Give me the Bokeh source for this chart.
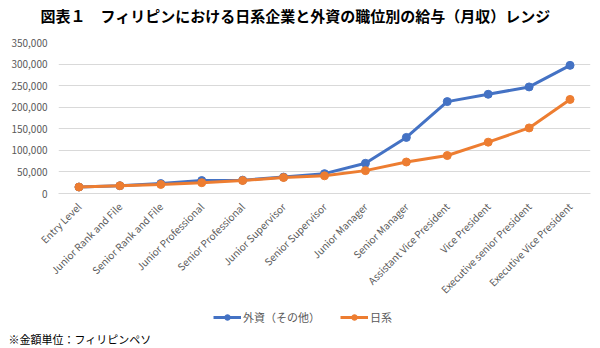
import math
from bokeh.plotting import figure
from bokeh.layouts import column
from bokeh.models import (Legend, LegendItem, Title, NumeralTickFormatter,
                          FixedTicker, Range1d)
from bokeh.embed import file_html
from bokeh.resources import INLINE

categories = ["Entry Level", "Junior Rank and File", "Senior Rank and File",
              "Junior Professional", "Senior Professional", "Junior Supervisor",
              "Senior Supervisor", "Junior Manager", "Senior Manager",
              "Assistant Vice President", "Vice President",
              "Executive senior President", "Executive Vice President"]
foreign = [15000, 18000, 23000, 30000, 31000, 38000, 46000, 70000, 130000,
           213000, 230000, 247000, 297000]
japanese = [15000, 18000, 21000, 25000, 30000, 37000, 41000, 53000, 73000,
            88000, 119000, 152000, 218000]
y_ticks = [0, 50000, 100000, 150000, 200000, 250000, 300000, 350000]

title_text = "図表１　フィリピンにおける日系企業と外資の職位別の給与（月収）レンジ"
note_text = "※金額単位：フィリピンペソ"
series_names = ["外資（その他）", "日系"]

JP = "Noto Sans CJK JP"
BLUE = "#4472C4"
ORANGE = "#ED7D31"
W = 600
LEFT, RIGHT = 58, 10
TOP_H, MAIN_H, BOT_H = 36, 268, 44
NAN = [float("nan")]


def blank(h, top_border, bottom_border):
    f = figure(width=W, height=h, x_range=Range1d(0, 1), y_range=Range1d(0, 1),
               output_backend="svg", toolbar_location=None,
               x_axis_location=None, y_axis_location=None,
               min_border_left=LEFT, min_border_right=RIGHT,
               min_border_top=top_border, min_border_bottom=bottom_border)
    f.grid.visible = False
    f.outline_line_color = None
    f.background_fill_color = "white"
    f.border_fill_color = "white"
    return f


# --- title strip
top = blank(TOP_H, 25, 0)
top.add_layout(Title(text=title_text, align="left", offset=40 - LEFT,
                     standoff=0, text_font=JP, text_font_size="15px",
                     text_font_style="bold", text_color="#000000"), "above")

# --- main chart
p = figure(x_range=categories, y_range=Range1d(0, 350000), width=W, height=MAIN_H,
           output_backend="svg", toolbar_location=None,
           min_border_left=LEFT, min_border_right=RIGHT,
           min_border_top=42 - TOP_H, min_border_bottom=TOP_H + MAIN_H - 193)
p.outline_line_color = None
p.background_fill_color = "white"
p.border_fill_color = "white"

p.line(categories, foreign, line_color=BLUE, line_width=3)
p.scatter(categories, foreign, size=8, fill_color=BLUE, line_color=BLUE)
p.line(categories, japanese, line_color=ORANGE, line_width=3)
p.scatter(categories, japanese, size=8, fill_color=ORANGE, line_color=ORANGE)

p.yaxis.ticker = FixedTicker(ticks=y_ticks)
p.yaxis.formatter = NumeralTickFormatter(format="0,0")
p.yaxis.axis_line_color = None
p.yaxis.major_tick_line_color = None
p.yaxis.minor_tick_line_color = None
p.yaxis.major_label_text_font = JP
p.yaxis.major_label_text_font_size = "10px"
p.yaxis.major_label_text_color = "#595959"

p.xaxis.axis_line_color = "#d9d9d9"
p.xaxis.axis_line_width = 1
p.xaxis.major_tick_line_color = None
p.xaxis.minor_tick_line_color = None
p.xaxis.major_label_orientation = math.pi / 4
p.xaxis.major_label_text_font = JP
p.xaxis.major_label_text_font_size = "10px"
p.xaxis.major_label_text_color = "#595959"

p.xgrid.grid_line_color = None
p.ygrid.grid_line_color = "#d9d9d9"
p.ygrid.grid_line_width = 1

# --- legend + note strip (legend swatches only, no data shown)
bot = blank(BOT_H, 0, 20)
dl1 = bot.line(NAN, NAN, line_color=BLUE, line_width=3)
dc1 = bot.scatter(NAN, NAN, size=8, fill_color=BLUE, line_color=BLUE)
dl2 = bot.line(NAN, NAN, line_color=ORANGE, line_width=3)
dc2 = bot.scatter(NAN, NAN, size=8, fill_color=ORANGE, line_color=ORANGE)
legend = Legend(items=[LegendItem(label=series_names[0], renderers=[dl1, dc1]),
                       LegendItem(label=series_names[1], renderers=[dl2, dc2])],
                orientation="horizontal", location=(213 - LEFT, 3),
                label_text_font=JP, label_text_font_size="11px",
                label_text_color="#595959", border_line_color=None,
                background_fill_alpha=0, glyph_width=28, glyph_height=14,
                spacing=20, padding=0, margin=0, label_standoff=2)
bot.add_layout(legend)
bot.add_layout(Title(text=note_text, align="left", offset=8 - LEFT, standoff=0,
                     text_font=JP, text_font_size="11px",
                     text_font_style="normal", text_color="#000000"), "below")

layout = column(top, p, bot, spacing=0)
open("out.html", "w").write(file_html(layout, INLINE))
